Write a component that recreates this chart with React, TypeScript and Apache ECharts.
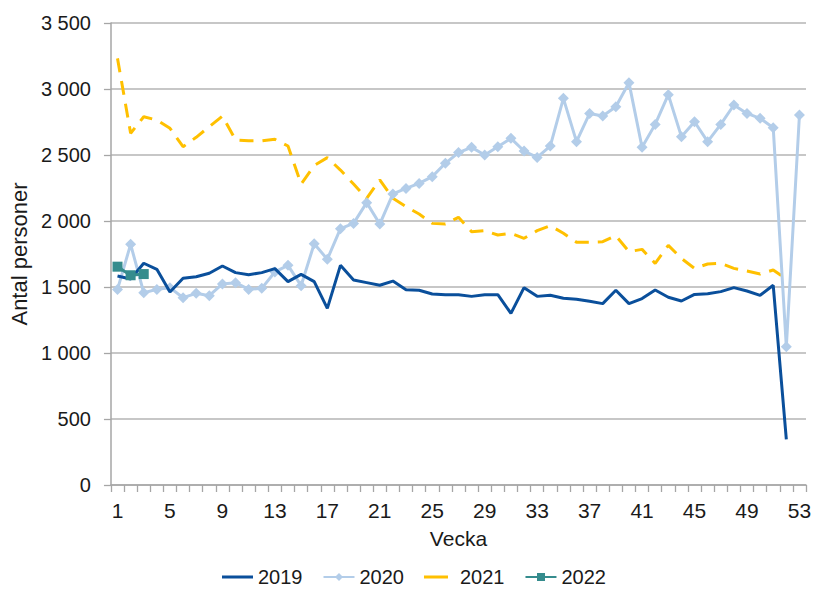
import React, { useEffect, useRef } from "react";
import * as echarts from "echarts";

const weeks: string[] = Array.from({ length: 53 }, (_, i) => String(i + 1));

const s2019: (number | null)[] = [
  1583, 1560, 1680, 1634, 1462, 1566, 1578, 1604, 1659, 1609,
  1593, 1609, 1639, 1541, 1596, 1541, 1338, 1664, 1553, 1533,
  1513, 1545, 1480, 1475, 1447, 1442, 1442, 1429, 1442, 1442,
  1300, 1495, 1429, 1437, 1415, 1407, 1392, 1374, 1475, 1374,
  1412, 1477, 1422, 1394, 1444, 1449, 1465, 1495, 1470, 1437,
  1513, 346, null,
];

const s2020: (number | null)[] = [
  1482, 1823, 1457, 1482, 1495, 1419, 1452, 1434, 1523, 1533,
  1482, 1490, 1614, 1664, 1510, 1828, 1710, 1942, 1982, 2139,
  1977, 2205, 2247, 2285, 2336, 2437, 2518, 2558, 2500, 2563,
  2626, 2530, 2482, 2568, 2929, 2601, 2815, 2795, 2866, 3048,
  2558, 2732, 2957, 2639, 2752, 2601, 2732, 2879, 2815, 2778,
  2707, 1048, 2803,
];

const s2021: (number | null)[] = [
  3232, 2664, 2790, 2765, 2702, 2563, 2634, 2715, 2795, 2614,
  2608, 2608, 2619, 2568, 2280, 2420, 2480, 2386, 2280, 2172,
  2311, 2172, 2109, 2053, 1982, 1977, 2028, 1919, 1927, 1894,
  1907, 1869, 1927, 1965, 1907, 1839, 1839, 1843, 1889, 1768,
  1785, 1679, 1815, 1717, 1641, 1674, 1679, 1641, 1621, 1598,
  1629, 1560, null,
];

const s2022: (number | null)[] = [1654, 1589, 1598];

const fmt = (v: number) =>
  v >= 1000 ? `${Math.floor(v / 1000)} ${String(v % 1000).padStart(3, "0")}` : String(v);

export default function App() {
  const ref = useRef<HTMLDivElement>(null);
  useEffect(() => {
    if (!ref.current) return;
    const chart = echarts.init(ref.current, undefined, { renderer: "svg" });
    const font = "'Liberation Sans', Arial, sans-serif";
    const txt = "#1a1a1a";
    chart.setOption({
      animation: false,
      textStyle: { fontFamily: font },
      grid: { left: 110, right: 10, top: 23, bottom: 109 },
      legend: {
        bottom: 2,
        left: 217,
        itemWidth: 31,
        itemHeight: 10,
        itemGap: 20,
        itemStyle: { borderWidth: 0 },
        textStyle: { fontSize: 20, color: txt, fontFamily: font },
        data: [
          { name: "2019", icon: "path://M0,0L0,0ZM0,3.6H31V6.4H0ZM31,10L31,10Z" },
          { name: "2020" },
          { name: "2021", icon: "path://M0,0L0,0ZM0,3.6H24V6.4H0ZM31,10L31,10Z" },
          { name: "2022" },
        ],
      },
      xAxis: {
        type: "category",
        data: weeks,
        boundaryGap: true,
        name: "Vecka",
        nameLocation: "middle",
        nameGap: 43,
        nameTextStyle: { fontSize: 21, color: txt, fontFamily: font },
        axisLine: { lineStyle: { color: "#a6a6a6", width: 1.5 } },
        axisTick: { show: true, interval: 0, length: 7, lineStyle: { color: "#a6a6a6", width: 1.3 } },
        axisLabel: { interval: 3, fontSize: 21, color: txt, margin: 15, fontFamily: font },
        splitLine: { show: false },
      },
      yAxis: {
        type: "value",
        min: 0,
        max: 3500,
        interval: 500,
        name: "Antal personer",
        nameLocation: "middle",
        nameGap: 75,
        nameRotate: 90,
        nameTextStyle: { fontSize: 22, color: txt, fontFamily: font },
        axisLine: { show: true, lineStyle: { color: "#a6a6a6", width: 1.5 } },
        axisTick: { show: true, length: 7, lineStyle: { color: "#a6a6a6", width: 1.3 } },
        axisLabel: { fontSize: 20, color: txt, margin: 20, formatter: fmt, fontFamily: font },
        splitLine: { show: true, lineStyle: { color: "#b4b4b4", width: 1.5 } },
      },
      series: [
        {
          name: "2019",
          type: "line",
          data: s2019,
          symbol: "none",
          color: "#0a4f9b",
          lineStyle: { color: "#0a4f9b", width: 3 },
          z: 4,
        },
        {
          name: "2020",
          type: "line",
          data: s2020,
          symbol: "diamond",
          symbolSize: 11,
          showAllSymbol: true,
          color: "#b3cde9",
          itemStyle: { color: "#b3cde9" },
          lineStyle: { color: "#b3cde9", width: 3 },
          z: 3,
        },
        {
          name: "2021",
          type: "line",
          data: s2021,
          symbol: "none",
          color: "#ffc000",
          lineStyle: { color: "#ffc000", width: 3, type: [14, 9] },
          z: 2,
        },
        {
          name: "2022",
          type: "line",
          data: s2022,
          symbol: "rect",
          symbolSize: 10,
          showAllSymbol: true,
          color: "#358c8d",
          itemStyle: { color: "#358c8d" },
          lineStyle: { color: "#358c8d", width: 3 },
          z: 5,
        },
      ],
    });
    return () => chart.dispose();
  }, []);
  return <div ref={ref} style={{ width: 816, height: 594, position: "absolute", left: 0, top: 0 }} />;
}
